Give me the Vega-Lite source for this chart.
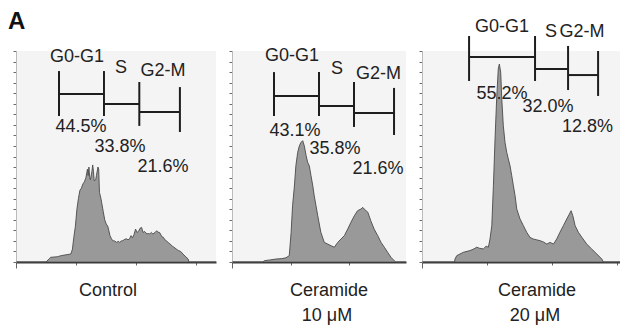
{
  "$schema": "https://vega.github.io/schema/vega-lite/v6.json",
  "padding": {"left": 8, "top": 10, "right": 0, "bottom": 0},
  "background": "white",
  "bounds": "flush",
  "spacing": 16,
  "config": {
    "view": {"stroke": null, "fill": "#f4f4f4"},
    "axisX": {"title": null, "labels": false, "grid": false, "tickColor": "#666", "domainColor": "#3a3a3a", "domainWidth": 2, "tickSize": {"expr": "datum.value % 100 === 0 ? 6 : 3"}},
    "axisY": {"title": null, "labels": false, "grid": false, "tickColor": "#6a6a6a", "domainColor": "#bbb", "domainWidth": 1, "tickSize": 3, "tickCount": 25},
    "text": {"font": "Liberation Sans", "fontSize": 18, "color": "#222", "baseline": "alphabetic", "align": "center"}
  },
  "datasets": {
    "hist1": [
      {"x":0,"y":0},{"x":40,"y":0},{"x":44,"y":1.5},{"x":46,"y":2.2},{"x":55,"y":2.5},{"x":60,"y":3.0},{"x":68,"y":3.5},{"x":73,"y":3.8},{"x":75,"y":6},{"x":77,"y":12},{"x":79,"y":17},{"x":81,"y":25},{"x":83,"y":30},{"x":85,"y":34},{"x":87,"y":35},{"x":89,"y":37},{"x":91,"y":38},{"x":93,"y":40},{"x":95,"y":44},{"x":96,"y":41},{"x":97,"y":45},{"x":98,"y":40},{"x":99,"y":39},{"x":101,"y":43},{"x":102,"y":46},{"x":103,"y":43},{"x":104,"y":38.5},{"x":106,"y":39},{"x":107,"y":41},{"x":109,"y":45},{"x":110,"y":44},{"x":111,"y":33},{"x":113,"y":30},{"x":114,"y":28},{"x":116,"y":24},{"x":118,"y":20},{"x":120,"y":18},{"x":122,"y":17},{"x":123,"y":15.6},{"x":125,"y":12.5},{"x":127,"y":11},{"x":129,"y":10},{"x":131,"y":10},{"x":134,"y":9.3},{"x":136,"y":9.8},{"x":138,"y":9.3},{"x":140,"y":10},{"x":142,"y":10.1},{"x":145,"y":10.8},{"x":147,"y":11},{"x":149,"y":10.5},{"x":151,"y":11},{"x":153,"y":12.5},{"x":155,"y":11.5},{"x":157,"y":13},{"x":159,"y":15.6},{"x":161,"y":14},{"x":163,"y":14.5},{"x":165,"y":16},{"x":167,"y":16.4},{"x":169,"y":14},{"x":171,"y":14.5},{"x":174,"y":13.3},{"x":176,"y":13.5},{"x":178,"y":13.3},{"x":180,"y":14},{"x":182,"y":13.3},{"x":185,"y":14},{"x":187,"y":14.8},{"x":189,"y":14.1},{"x":191,"y":14},{"x":194,"y":12},{"x":196,"y":11.7},{"x":198,"y":10.5},{"x":200,"y":10.1},{"x":203,"y":9},{"x":205,"y":8.5},{"x":208,"y":7.5},{"x":210,"y":7},{"x":213,"y":6.2},{"x":216,"y":5.4},{"x":219,"y":5},{"x":222,"y":3.8},{"x":226,"y":2.4},{"x":229,"y":1.4},{"x":230,"y":0},{"x":266,"y":0}
    ],
    "hist2": [
      {"x":0,"y":0},{"x":42,"y":0},{"x":44,"y":0.6},{"x":52,"y":1},{"x":60,"y":1.4},{"x":68,"y":1.6},{"x":73.5,"y":2},{"x":78,"y":3},{"x":80.5,"y":14},{"x":82.5,"y":26.7},{"x":85,"y":36},{"x":87,"y":45.6},{"x":89.5,"y":52},{"x":91.7,"y":55},{"x":94,"y":56.7},{"x":96.3,"y":57.5},{"x":98.5,"y":55},{"x":101,"y":50.4},{"x":103,"y":47.3},{"x":105.3,"y":45.6},{"x":107.6,"y":40.9},{"x":110,"y":36.2},{"x":112,"y":31.4},{"x":114.4,"y":26.7},{"x":116.8,"y":21.9},{"x":121,"y":14.1},{"x":125.7,"y":9.3},{"x":130.4,"y":8.5},{"x":135,"y":7.7},{"x":139.4,"y":7},{"x":144,"y":9.3},{"x":148.5,"y":10.9},{"x":153,"y":12.5},{"x":157.6,"y":15.6},{"x":162,"y":18.8},{"x":166.6,"y":21.9},{"x":171,"y":24.3},{"x":175.7,"y":25.1},{"x":178,"y":25.9},{"x":180,"y":25.1},{"x":185,"y":23.6},{"x":189,"y":19.6},{"x":193.6,"y":15.6},{"x":198.5,"y":12.5},{"x":203,"y":9.3},{"x":207.5,"y":7},{"x":212,"y":4.6},{"x":216.6,"y":2.2},{"x":221,"y":0.6},{"x":223,"y":0},{"x":237,"y":0}
    ],
    "hist3": [
      {"x":0,"y":0},{"x":40,"y":0},{"x":40.7,"y":1.4},{"x":42.8,"y":3},{"x":51,"y":4.6},{"x":59,"y":5.4},{"x":63,"y":6},{"x":67.4,"y":7},{"x":71,"y":6.5},{"x":75.6,"y":6.2},{"x":79,"y":7.5},{"x":81.8,"y":7},{"x":83.8,"y":10.9},{"x":86,"y":17.2},{"x":88,"y":36.2},{"x":90,"y":58.3},{"x":92,"y":77.3},{"x":94,"y":91.5},{"x":95.3,"y":93.8},{"x":97,"y":89.9},{"x":98.3,"y":77.3},{"x":100.2,"y":64.6},{"x":102.3,"y":56.7},{"x":104.4,"y":52},{"x":106.4,"y":48.8},{"x":108.5,"y":45.6},{"x":110.6,"y":40.9},{"x":112.6,"y":36.2},{"x":114.7,"y":31.4},{"x":116.8,"y":25.1},{"x":120.8,"y":20.4},{"x":125,"y":17.2},{"x":129,"y":14.1},{"x":133,"y":11.7},{"x":137,"y":10.9},{"x":141.4,"y":10.5},{"x":145.5,"y":10.1},{"x":149.6,"y":9.5},{"x":153.8,"y":8.5},{"x":157.8,"y":9.3},{"x":162,"y":8.5},{"x":166,"y":10.9},{"x":170,"y":14.1},{"x":174.2,"y":17.2},{"x":178.4,"y":20.4},{"x":181.6,"y":22.7},{"x":183.7,"y":24.3},{"x":185.8,"y":22},{"x":188.7,"y":17.2},{"x":192.7,"y":14.1},{"x":197,"y":11.7},{"x":203,"y":8.5},{"x":209,"y":6.2},{"x":215.4,"y":3.8},{"x":221.6,"y":1.4},{"x":223.5,"y":0},{"x":244,"y":0}
    ],
    "gates1": [
      {"x":57.2,"x2":57.2,"y":90.5,"y2":69.2},{"x":117,"x2":117,"y":90.5,"y2":69.2},{"x":57.2,"x2":117,"y":79.6,"y2":79.6},{"x":117,"x2":164,"y":74.9,"y2":74.9},{"x":164,"x2":164,"y":85.3,"y2":64.5},{"x":218,"x2":218,"y":82.9,"y2":61.6},{"x":164,"x2":218,"y":71.1,"y2":71.1}
    ],
    "gates2": [
      {"x":57.2,"x2":57.2,"y":90,"y2":69.2},{"x":118.5,"x2":118.5,"y":90,"y2":69.2},{"x":57.2,"x2":118.5,"y":78.7,"y2":78.7},{"x":118.5,"x2":166.2,"y":73.9,"y2":73.9},{"x":166.2,"x2":166.2,"y":85.3,"y2":64},{"x":220.7,"x2":220.7,"y":82.5,"y2":60.2},{"x":166.2,"x2":220.7,"y":70.6,"y2":70.6}
    ],
    "gates3": [
      {"x":58,"x2":58,"y":107.1,"y2":85.8},{"x":139.3,"x2":139.3,"y":107.1,"y2":85.8},{"x":58,"x2":139.3,"y":97.2,"y2":97.2},{"x":139.3,"x2":180,"y":91.5,"y2":91.5},{"x":180,"x2":180,"y":102.4,"y2":81.5},{"x":217,"x2":217,"y":100,"y2":78.7},{"x":180,"x2":217,"y":88.6,"y2":88.6}
    ],
    "labels1": [
      {"t":"G0-G1","x":81,"y":94.8},{"t":"S","x":139.6,"y":89.6},{"t":"G2-M","x":195.5,"y":88.2},{"t":"44.5%","x":86.5,"y":61.6},{"t":"33.8%","x":138.3,"y":52.1},{"t":"21.6%","x":195.5,"y":42.7},{"t":"Control","x":122.4,"y":-16.1}
    ],
    "labels2": [
      {"t":"G0-G1","x":81.7,"y":95.3},{"t":"S","x":143,"y":89.1},{"t":"G2-M","x":199.6,"y":86.7},{"t":"43.1%","x":85.8,"y":59.7},{"t":"35.8%","x":140.3,"y":51.2},{"t":"21.6%","x":199,"y":41.7},{"t":"Ceramide","x":132,"y":-16.1},{"t":"10 μM","x":129.4,"y":-27.8}
    ],
    "labels3": [
      {"t":"G0-G1","x":98.6,"y":109},{"t":"S","x":159,"y":106.6},{"t":"G2-M","x":197.3,"y":106.6},{"t":"55.2%","x":98.6,"y":77.3},{"t":"32.0%","x":155.4,"y":71.1},{"t":"12.8%","x":204,"y":61.6},{"t":"Ceramide","x":141.8,"y":-16.1},{"t":"20 μM","x":139.3,"y":-27.8}
    ],
    "panelLetter": [{"t":"A","x":-10.6,"y":110.4}]
  },
  "hconcat": [
    {
      "width": 200, "height": 211,
      "layer": [
        {"data": {"name": "hist1"}, "mark": {"type": "area", "color": "#727272", "line": {"color": "#4a4a4a", "strokeWidth": 0.9}},
         "encoding": {
           "x": {"field": "x", "type": "quantitative", "scale": {"domain": [0, 266], "nice": false, "zero": false}, "axis": {"values": [0,20,40,60,80,100,120,140,160,180,200,220,240,260]}},
           "y": {"field": "y", "type": "quantitative", "scale": {"domain": [0, 100], "nice": false}}}},
        {"data": {"name": "gates1"}, "mark": {"type": "rule", "color": "#1e1e1e", "strokeWidth": 2},
         "encoding": {"x": {"field": "x", "type": "quantitative"}, "x2": {"field": "x2"}, "y": {"field": "y", "type": "quantitative"}, "y2": {"field": "y2"}}},
        {"data": {"name": "labels1"}, "mark": {"type": "text"},
         "encoding": {"x": {"field": "x", "type": "quantitative"}, "y": {"field": "y", "type": "quantitative"}, "text": {"field": "t"}}},
        {"data": {"name": "panelLetter"}, "mark": {"type": "text", "font": "Liberation Sans", "fontWeight": "bold", "fontSize": 24, "align": "left", "color": "#111"},
         "encoding": {"x": {"field": "x", "type": "quantitative"}, "y": {"field": "y", "type": "quantitative"}, "text": {"field": "t"}}}
      ]
    },
    {
      "width": 174, "height": 211,
      "layer": [
        {"data": {"name": "hist2"}, "mark": {"type": "area", "color": "#727272", "line": {"color": "#4a4a4a", "strokeWidth": 0.9}},
         "encoding": {
           "x": {"field": "x", "type": "quantitative", "scale": {"domain": [0, 237], "nice": false, "zero": false}, "axis": {"values": [0,20,40,60,80,100,120,140,160,180,200,220]}},
           "y": {"field": "y", "type": "quantitative", "scale": {"domain": [0, 100], "nice": false}}}},
        {"data": {"name": "gates2"}, "mark": {"type": "rule", "color": "#1e1e1e", "strokeWidth": 2},
         "encoding": {"x": {"field": "x", "type": "quantitative"}, "x2": {"field": "x2"}, "y": {"field": "y", "type": "quantitative"}, "y2": {"field": "y2"}}},
        {"data": {"name": "labels2"}, "mark": {"type": "text"},
         "encoding": {"x": {"field": "x", "type": "quantitative"}, "y": {"field": "y", "type": "quantitative"}, "text": {"field": "t"}}}
      ]
    },
    {
      "width": 198, "height": 211,
      "layer": [
        {"data": {"name": "hist3"}, "mark": {"type": "area", "color": "#727272", "line": {"color": "#4a4a4a", "strokeWidth": 0.9}},
         "encoding": {
           "x": {"field": "x", "type": "quantitative", "scale": {"domain": [0, 244], "nice": false, "zero": false}, "axis": {"values": [0,20,40,60,80,100,120,140,160,180,200,220,240]}},
           "y": {"field": "y", "type": "quantitative", "scale": {"domain": [0, 100], "nice": false}}}},
        {"data": {"name": "gates3"}, "mark": {"type": "rule", "color": "#1e1e1e", "strokeWidth": 2},
         "encoding": {"x": {"field": "x", "type": "quantitative"}, "x2": {"field": "x2"}, "y": {"field": "y", "type": "quantitative"}, "y2": {"field": "y2"}}},
        {"data": {"name": "labels3"}, "mark": {"type": "text"},
         "encoding": {"x": {"field": "x", "type": "quantitative"}, "y": {"field": "y", "type": "quantitative"}, "text": {"field": "t"}}}
      ]
    }
  ]
}
